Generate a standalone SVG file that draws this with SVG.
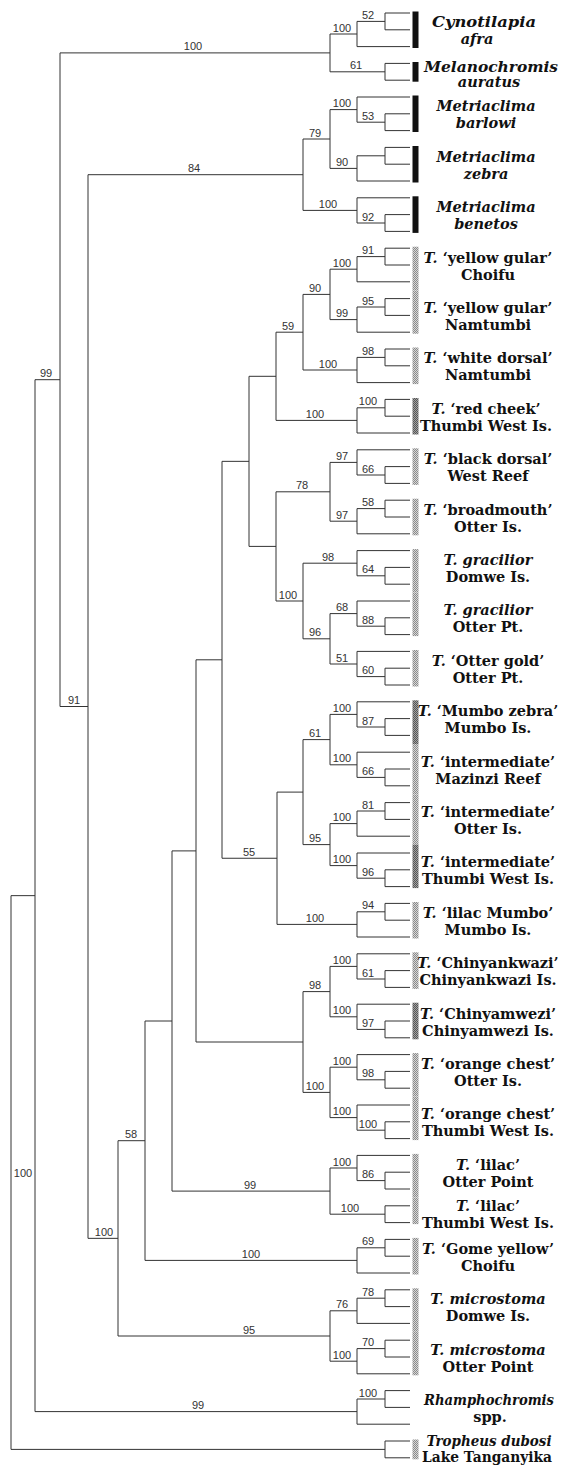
<svg xmlns="http://www.w3.org/2000/svg" width="565" height="1468" viewBox="0 0 565 1468">
<style>
.br{fill:none;stroke:#333;stroke-width:1}
.bs{font-family:"Liberation Sans",Arial,sans-serif;font-size:11px;fill:#333;text-anchor:middle}
.tx{font-family:"DejaVu Serif",serif;font-weight:bold;font-size:14.5px;fill:#111;text-anchor:middle}
.i{font-style:italic}
.blk{fill:#111}
.gr{fill:url(#hat)}
.dk{fill:url(#hatd)}
</style>
<defs>
<pattern id="hat" width="2" height="2" patternUnits="userSpaceOnUse"><rect width="2" height="2" fill="#d6d6d6"/><rect width="1" height="1" fill="#8a8a8a"/><rect x="1" y="1" width="1" height="1" fill="#8a8a8a"/></pattern>
<pattern id="hatd" width="2" height="2" patternUnits="userSpaceOnUse"><rect width="2" height="2" fill="#a0a0a0"/><rect width="1" height="1" fill="#555"/><rect x="1" y="1" width="1" height="1" fill="#555"/></pattern>
</defs>
<rect width="565" height="1468" fill="#fff"/>
<g id="connectors" class="br">
<path d="M385 13V29.8M385 13H410M385 29.8H410M357 21.4V46.6M357 21.4H385M357 46.6H410"/>
<path d="M385 63.4V80.2M385 63.4H410M385 80.2H410"/>
<path d="M330 34V71.8M330 34H357M330 71.8H385"/>
<path d="M357 97V122.2M357 97H410M357 122.2H385M385 113.8V130.6M385 113.8H410M385 130.6H410"/>
<path d="M385 147.4V164.2M385 147.4H410M385 164.2H410M357 155.8V181M357 155.8H385M357 181H410"/>
<path d="M330 109.6V168.4M330 109.6H357M330 168.4H357"/>
<path d="M357 197.8V223M357 197.8H410M357 223H385M385 214.6V231.4M385 214.6H410M385 231.4H410"/>
<path d="M303 139V210.4M303 139H330M303 210.4H357"/>
<path d="M385 248.2V265M385 248.2H410M385 265H410M357 256.6V281.8M357 256.6H385M357 281.8H410"/>
<path d="M385 298.6V315.4M385 298.6H410M385 315.4H410M357 307V332.2M357 307H385M357 332.2H410"/>
<path d="M330 269.2V319.6M330 269.2H357M330 319.6H357"/>
<path d="M385 349V365.8M385 349H410M385 365.8H410M357 357.4V382.6M357 357.4H385M357 382.6H410"/>
<path d="M303 294.4V370M303 294.4H330M303 370H357"/>
<path d="M385 399.4V416.2M385 399.4H410M385 416.2H410M357 407.8V433M357 407.8H385M357 433H410"/>
<path d="M276 332.2V420.4M276 332.2H303M276 420.4H357"/>
<path d="M357 449.8V475M357 449.8H410M357 475H385M385 466.6V483.4M385 466.6H410M385 483.4H410"/>
<path d="M385 500.2V517M385 500.2H410M385 517H410M357 508.6V533.8M357 508.6H385M357 533.8H410"/>
<path d="M330 462.4V521.2M330 462.4H357M330 521.2H357"/>
<path d="M357 550.6V575.8M357 550.6H410M357 575.8H385M385 567.4V584.2M385 567.4H410M385 584.2H410"/>
<path d="M357 601V626.2M357 601H410M357 626.2H385M385 617.8V634.6M385 617.8H410M385 634.6H410"/>
<path d="M357 651.4V676.6M357 651.4H410M357 676.6H385M385 668.2V685M385 668.2H410M385 685H410"/>
<path d="M330 613.6V664M330 613.6H357M330 664H357"/>
<path d="M303 563.2V638.8M303 563.2H357M303 638.8H330"/>
<path d="M276 491.8V601M276 491.8H330M276 601H303"/>
<path d="M249 376.3V546.4M249 376.3H276M249 546.4H276"/>
<path d="M357 701.8V727M357 701.8H410M357 727H385M385 718.6V735.4M385 718.6H410M385 735.4H410"/>
<path d="M357 752.2V777.4M357 752.2H410M357 777.4H385M385 769V785.8M385 769H410M385 785.8H410"/>
<path d="M330 714.4V764.8M330 714.4H357M330 764.8H357"/>
<path d="M385 802.6V819.4M385 802.6H410M385 819.4H410M357 811V836.2M357 811H385M357 836.2H410"/>
<path d="M357 853V878.2M357 853H410M357 878.2H385M385 869.8V886.6M385 869.8H410M385 886.6H410"/>
<path d="M330 823.6V865.6M330 823.6H357M330 865.6H357"/>
<path d="M303 739.6V844.6M303 739.6H330M303 844.6H330"/>
<path d="M385 903.4V920.2M385 903.4H410M385 920.2H410M357 911.8V937M357 911.8H385M357 937H410"/>
<path d="M277 792.1V924.4M277 792.1H303M277 924.4H357"/>
<path d="M222 461.35V858.25M222 461.35H249M222 858.25H277"/>
<path d="M357 953.8V979M357 953.8H410M357 979H385M385 970.6V987.4M385 970.6H410M385 987.4H410"/>
<path d="M357 1004.2V1029.4M357 1004.2H410M357 1029.4H385M385 1021V1037.8M385 1021H410M385 1037.8H410"/>
<path d="M330 966.4V1016.8M330 966.4H357M330 1016.8H357"/>
<path d="M357 1054.6V1079.8M357 1054.6H410M357 1079.8H385M385 1071.4V1088.2M385 1071.4H410M385 1088.2H410"/>
<path d="M357 1105V1130.2M357 1105H410M357 1130.2H385M385 1121.8V1138.6M385 1121.8H410M385 1138.6H410"/>
<path d="M330 1067.2V1117.6M330 1067.2H357M330 1117.6H357"/>
<path d="M303 991.6V1092.4M303 991.6H330M303 1092.4H330"/>
<path d="M196 659.8V1042M196 659.8H222M196 1042H303"/>
<path d="M357 1155.4V1180.6M357 1155.4H410M357 1180.6H385M385 1172.2V1189M385 1172.2H410M385 1189H410"/>
<path d="M385 1205.8V1222.6M385 1205.8H410M385 1222.6H410"/>
<path d="M330 1168V1214.2M330 1168H357M330 1214.2H385"/>
<path d="M172 850.9V1191.1M172 850.9H196M172 1191.1H330"/>
<path d="M385 1239.4V1256.2M385 1239.4H410M385 1256.2H410M357 1247.8V1273M357 1247.8H385M357 1273H410"/>
<path d="M145 1021V1260.4M145 1021H172M145 1260.4H357"/>
<path d="M385 1289.8V1306.6M385 1289.8H410M385 1306.6H410M357 1298.2V1323.4M357 1298.2H385M357 1323.4H410"/>
<path d="M385 1340.2V1357M385 1340.2H410M385 1357H410M357 1348.6V1373.8M357 1348.6H385M357 1373.8H410"/>
<path d="M330 1310.8V1361.2M330 1310.8H357M330 1361.2H357"/>
<path d="M118 1140.7V1336M118 1140.7H145M118 1336H330"/>
<path d="M88 174.7V1238.35M88 174.7H303M88 1238.35H118"/>
<path d="M60 52.9V706.5M60 52.9H330M60 706.5H88"/>
<path d="M385 1390.6V1407.4M385 1390.6H410M385 1407.4H410M357 1399V1424.2M357 1399H385M357 1424.2H410"/>
<path d="M35 379.7V1411.6M35 379.7H60M35 1411.6H357"/>
<path d="M385 1441V1457.8M385 1441H410M385 1457.8H410"/>
<path d="M11 895.65V1449.4M11 895.65H35M11 1449.4H385"/>
</g>
<g id="support" class="bs">
<text x="368" y="18.9">52</text><text x="342" y="31.5">100</text><text x="356" y="69.3">61</text><text x="193" y="50.4">100</text>
<text x="368" y="119.7">53</text><text x="342" y="107.1">100</text><text x="342" y="165.9">90</text><text x="315" y="136.5">79</text>
<text x="368" y="220.5">92</text><text x="328" y="207.9">100</text><text x="194" y="172.2">84</text>
<text x="368" y="254.1">91</text><text x="342" y="266.7">100</text><text x="368" y="304.5">95</text><text x="342" y="317.1">99</text>
<text x="315" y="291.9">90</text><text x="368" y="354.9">98</text><text x="328" y="367.5">100</text><text x="288" y="329.7">59</text>
<text x="368" y="405.3">100</text><text x="315" y="417.9">100</text>
<text x="368" y="472.5">66</text><text x="342" y="459.9">97</text><text x="368" y="506.1">58</text><text x="342" y="518.7">97</text><text x="302" y="489.3">78</text>
<text x="368" y="573.3">64</text><text x="328" y="560.7">98</text><text x="368" y="623.7">88</text><text x="342" y="611.1">68</text>
<text x="368" y="674.1">60</text><text x="342" y="661.5">51</text><text x="315" y="636.3">96</text><text x="288" y="598.5">100</text>
<text x="368" y="724.5">87</text><text x="342" y="711.9">100</text><text x="368" y="774.9">66</text><text x="342" y="762.3">100</text><text x="315" y="737.1">61</text>
<text x="368" y="808.5">81</text><text x="342" y="821.1">100</text><text x="368" y="875.7">96</text><text x="342" y="863.1">100</text><text x="315" y="842.1">95</text>
<text x="368" y="909.3">94</text><text x="315" y="921.9">100</text><text x="249" y="855.7">55</text>
<text x="368" y="976.5">61</text><text x="342" y="963.9">100</text><text x="368" y="1026.9">97</text><text x="342" y="1014.3">100</text><text x="315" y="989.1">98</text>
<text x="368" y="1077.3">98</text><text x="342" y="1064.7">100</text><text x="368" y="1127.7">100</text><text x="342" y="1115.1">100</text><text x="315" y="1089.9">100</text>
<text x="368" y="1178.1">86</text><text x="342" y="1165.5">100</text><text x="350" y="1211.7">100</text><text x="250" y="1188.6">99</text>
<text x="368" y="1245.3">69</text><text x="251" y="1257.9">100</text><text x="131" y="1138.2">58</text>
<text x="368" y="1295.7">78</text><text x="342" y="1308.3">76</text><text x="368" y="1346.1">70</text><text x="342" y="1358.7">100</text><text x="249" y="1333.5">95</text>
<text x="104" y="1235.8">100</text><text x="74" y="704">91</text><text x="46" y="377.2">99</text>
<text x="368" y="1396.5">100</text><text x="198" y="1409.1">99</text><text x="23" y="1177">100</text>
</g>
<g id="t01" class="tx"><rect class="blk" x="412.5" y="11.5" width="6" height="36.5"/><text class="i" x="484" y="27.3" textLength="104" lengthAdjust="spacingAndGlyphs">Cynotilapia</text><text class="i" x="477" y="44.3">afra</text></g>
<g id="t02" class="tx"><rect class="blk" x="412.5" y="62" width="6" height="19.7"/><text class="i" x="491" y="71.8" textLength="134" lengthAdjust="spacingAndGlyphs">Melanochromis</text><text class="i" x="489" y="87.3">auratus</text></g>
<g id="t03" class="tx"><rect class="blk" x="412.5" y="95.5" width="6" height="36.5"/><text class="i" x="486" y="111.3">Metriaclima</text><text class="i" x="486" y="128.3">barlowi</text></g>
<g id="t04" class="tx"><rect class="blk" x="412.5" y="146" width="6" height="36.5"/><text class="i" x="486" y="161.7">Metriaclima</text><text class="i" x="486" y="178.7">zebra</text></g>
<g id="t05" class="tx"><rect class="blk" x="412.5" y="196.3" width="6" height="36.6"/><text class="i" x="486" y="212.1">Metriaclima</text><text class="i" x="486" y="229.1">benetos</text></g>
<g id="t06" class="tx"><rect class="gr" x="412.5" y="246.7" width="6" height="43.7"/><text x="488" y="262.5"><tspan class="i">T.</tspan> ‘yellow gular’</text><text x="488" y="279.5">Choifu</text></g>
<g id="t07" class="tx"><rect class="gr" x="412.5" y="290.4" width="6" height="43.3"/><text x="488" y="312.9"><tspan class="i">T.</tspan> ‘yellow gular’</text><text x="488" y="329.9">Namtumbi</text></g>
<g id="t08" class="tx"><rect class="gr" x="412.5" y="347.5" width="6" height="36.6"/><text x="488" y="363.3"><tspan class="i">T.</tspan> ‘white dorsal’</text><text x="488" y="380.3">Namtumbi</text></g>
<g id="t09" class="tx"><rect class="dk" x="412.5" y="398" width="6" height="36.5"/><text x="486" y="413.7"><tspan class="i">T.</tspan> ‘red cheek’</text><text x="486" y="430.7">Thumbi West Is.</text></g>
<g id="t10" class="tx"><rect class="gr" x="412.5" y="448.3" width="6" height="36.6"/><text x="488" y="464.1"><tspan class="i">T.</tspan> ‘black dorsal’</text><text x="488" y="481.1">West Reef</text></g>
<g id="t11" class="tx"><rect class="gr" x="412.5" y="498.7" width="6" height="36.6"/><text x="488" y="514.5"><tspan class="i">T.</tspan> ‘broadmouth’</text><text x="488" y="531.5">Otter Is.</text></g>
<g id="t12" class="tx"><rect class="gr" x="412.5" y="549.1" width="6" height="43.5"/><text class="i" x="488" y="564.9">T. gracilior</text><text x="488" y="581.9">Domwe Is.</text></g>
<g id="t13" class="tx"><rect class="gr" x="412.5" y="592.6" width="6" height="43.5"/><text class="i" x="488" y="615.3">T. gracilior</text><text x="488" y="632.3">Otter Pt.</text></g>
<g id="t14" class="tx"><rect class="gr" x="412.5" y="650" width="6" height="36.5"/><text x="488" y="665.7"><tspan class="i">T.</tspan> ‘Otter gold’</text><text x="488" y="682.7">Otter Pt.</text></g>
<g id="t15" class="tx"><rect class="dk" x="412.5" y="700.3" width="6" height="43.7"/><text x="488" y="716.1"><tspan class="i">T.</tspan> ‘Mumbo zebra’</text><text x="488" y="733.1">Mumbo Is.</text></g>
<g id="t16" class="tx"><rect class="gr" x="412.5" y="744" width="6" height="50.4"/><text x="488" y="766.5"><tspan class="i">T.</tspan> ‘intermediate’</text><text x="488" y="783.5">Mazinzi Reef</text></g>
<g id="t17" class="tx"><rect class="gr" x="412.5" y="794.4" width="6" height="50.2"/><text x="488" y="816.9"><tspan class="i">T.</tspan> ‘intermediate’</text><text x="488" y="833.9">Otter Is.</text></g>
<g id="t18" class="tx"><rect class="dk" x="412.5" y="844.6" width="6" height="43.5"/><text x="488" y="867.3"><tspan class="i">T.</tspan> ‘intermediate’</text><text x="488" y="884.3">Thumbi West Is.</text></g>
<g id="t19" class="tx"><rect class="gr" x="412.5" y="902" width="6" height="36.5"/><text x="488" y="917.7"><tspan class="i">T.</tspan> ‘lilac Mumbo’</text><text x="488" y="934.7">Mumbo Is.</text></g>
<g id="t20" class="tx"><rect class="gr" x="412.5" y="952.3" width="6" height="36.6"/><text x="488" y="968.1"><tspan class="i">T.</tspan> ‘Chinyankwazi’</text><text x="488" y="985.1">Chinyankwazi Is.</text></g>
<g id="t21" class="tx"><rect class="dk" x="412.5" y="1002.7" width="6" height="36.6"/><text x="488" y="1018.5"><tspan class="i">T.</tspan> ‘Chinyamwezi’</text><text x="488" y="1035.5">Chinyamwezi Is.</text></g>
<g id="t22" class="tx"><rect class="gr" x="412.5" y="1053.1" width="6" height="43.5"/><text x="488" y="1068.9"><tspan class="i">T.</tspan> ‘orange chest’</text><text x="488" y="1085.9">Otter Is.</text></g>
<g id="t23" class="tx"><rect class="gr" x="412.5" y="1096.6" width="6" height="43.5"/><text x="488" y="1119.3"><tspan class="i">T.</tspan> ‘orange chest’</text><text x="488" y="1136.3">Thumbi West Is.</text></g>
<g id="t24" class="tx"><rect class="gr" x="412.5" y="1153.9" width="6" height="43.5"/><text x="488" y="1169.7"><tspan class="i">T.</tspan> ‘lilac’</text><text x="488" y="1186.7">Otter Point</text></g>
<g id="t25" class="tx"><rect class="gr" x="412.5" y="1197.4" width="6" height="26.7"/><text x="488" y="1210.5"><tspan class="i">T.</tspan> ‘lilac’</text><text x="488" y="1227.5">Thumbi West Is.</text></g>
<g id="t26" class="tx"><rect class="gr" x="412.5" y="1237.9" width="6" height="36.6"/><text x="488" y="1253.7"><tspan class="i">T.</tspan> ‘Gome yellow’</text><text x="488" y="1270.7">Choifu</text></g>
<g id="t27" class="tx"><rect class="gr" x="412.5" y="1288.3" width="6" height="43.5"/><text class="i" x="488" y="1304.1">T. microstoma</text><text x="488" y="1321.1">Domwe Is.</text></g>
<g id="t28" class="tx"><rect class="gr" x="412.5" y="1331.8" width="6" height="43.5"/><text class="i" x="488" y="1354.5">T. microstoma</text><text x="488" y="1371.5">Otter Point</text></g>
<g id="t29" class="tx"><text class="i" x="489" y="1405" textLength="130" lengthAdjust="spacingAndGlyphs">Rhamphochromis</text><text x="490" y="1422">spp.</text></g>
<g id="t30" class="tx"><rect class="gr" x="412.5" y="1439.5" width="6" height="19.8"/><text class="i" x="489" y="1446" textLength="125" lengthAdjust="spacingAndGlyphs">Tropheus dubosi</text><text x="487" y="1462" textLength="130" lengthAdjust="spacingAndGlyphs">Lake Tanganyika</text></g>
</svg>
